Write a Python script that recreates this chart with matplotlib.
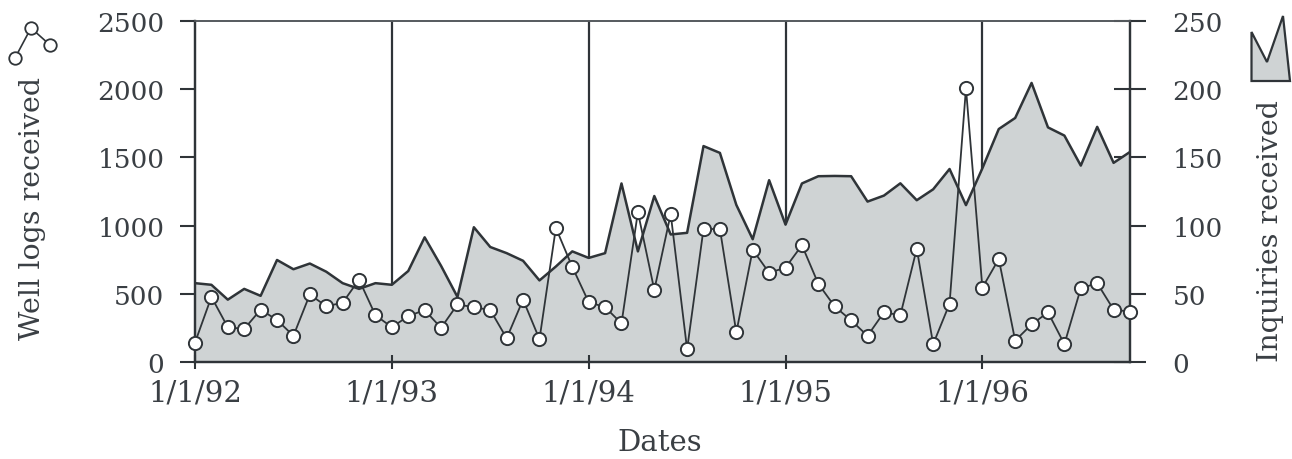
import matplotlib
matplotlib.use("Agg")
import matplotlib.pyplot as plt
from matplotlib.lines import Line2D
from matplotlib.patches import Polygon
import numpy as np

# Monthly data, Jan 1992 .. Oct 1996
well_logs = [142, 477, 255, 242, 384, 308, 192, 495, 409, 434, 604, 343,
             255, 336, 381, 250, 422, 402, 381, 174, 457, 167, 983, 697,
             439, 402, 283, 1099, 528, 1085, 93, 975, 975, 217, 823, 654,
             692, 856, 573, 407, 305, 192, 364, 343, 831, 131, 427, 2007,
             545, 755, 157, 275, 364, 131, 540, 578, 384, 369]
inquiries = [57.8, 56.6, 45.7, 53.6, 48.5, 74.8, 68.0, 72.2, 66.2, 57.8, 53.6, 57.8,
             56.6, 66.7, 91.4, 70.5, 47.7, 98.8, 84.3, 79.8, 74.2, 59.8, 70.0, 81.1,
             76.3, 79.8, 130.9, 81.1, 121.7, 93.5, 94.7, 158.3, 153.3, 115.2, 90.0, 133.3,
             100.7, 130.9, 136.2, 136.4, 136.2, 117.6, 122.0, 131.0, 118.6, 126.6, 141.5, 115.0,
             142.0, 170.8, 178.9, 204.6, 172.0, 166.0, 144.0, 172.4, 146.0, 154.0]
year_ticks = [0, 12, 24, 36, 48]
year_labels = ["1/1/92", "1/1/93", "1/1/94", "1/1/95", "1/1/96"]
left_ticks = [0, 500, 1000, 1500, 2000, 2500]
right_ticks = [0, 50, 100, 150, 200, 250]

plt.rcParams['font.family'] = ['DejaVu Serif']
INK = '#2f3438'
TXT = '#3a3f44'
FILL = '#cfd3d4'

W, H = 1292, 460
fig = plt.figure(figsize=(W / 100, H / 100), dpi=100)
L, R, B, T = 195, 1130, 363, 22
ax = fig.add_axes([L / W, 1 - B / H, (R - L) / W, (B - T) / H])
ax2 = ax.twinx()

months = np.arange(len(well_logs))

# inquiries area on right axis
for yt in year_ticks[1:]:
    ax2.axvline(yt, color=INK, lw=1.6, zorder=1)
ax2.fill_between(months, inquiries, 0, color=FILL, zorder=2, lw=0)
ax2.plot(months, inquiries, color=INK, lw=1.8, zorder=3)
ax2.set_ylim(0, 250)
ax2.set_yticks(right_ticks)
ax2.set_yticklabels([str(v) for v in right_ticks])
ax2.tick_params(axis='y', direction='inout', length=23, width=1.5, color=INK,
                labelsize=19, labelcolor=TXT, pad=19)
for lab in ax2.get_yticklabels():
    lab.set_horizontalalignment('left')

# well logs line on left axis (drawn above)
ax.set_zorder(ax2.get_zorder() + 1)
ax.patch.set_visible(False)
ax.plot(months, well_logs, color=INK, lw=1.3, marker='o', markersize=9.5,
        markerfacecolor='white', markeredgecolor=INK, markeredgewidth=1.4,
        zorder=5, clip_on=False)
ax.set_xlim(0, len(well_logs) - 1)
ax.set_ylim(0, 2500)
ax.set_yticks(left_ticks)
ax.set_yticklabels([str(v) for v in left_ticks])
ax.tick_params(axis='y', direction='out', length=11, width=1.5, color=INK,
               labelsize=19, labelcolor=TXT, pad=11)
ax.set_xticks(year_ticks)
ax.set_xticklabels(year_labels)
ax.tick_params(axis='x', direction='inout', length=10, width=1.5, color=INK,
               labelsize=21, labelcolor=TXT, pad=7)
ax2.tick_params(axis='x', length=0)

for a in (ax, ax2):
    for side in ('left', 'right', 'bottom'):
        a.spines[side].set_color(INK)
        a.spines[side].set_linewidth(1.6)
    a.spines['top'].set_color('#555a5e')
    a.spines['top'].set_linewidth(1.2)
    a.spines['top'].set_linestyle((0, (1, 1)))

fig.text(660 / W, 1 - 443 / H, "Dates", ha='center', va='center',
         fontsize=21, color=TXT)
fig.text(33 / W, 1 - 209 / H, "Well logs received", ha='center', va='center',
         rotation=90, fontsize=20.5, color=TXT)
fig.text(1270 / W, 1 - 231 / H, "Inquiries received", ha='center', va='center',
         rotation=90, fontsize=20.5, color=TXT)

# legend icons (figure pixel coordinates)
def px(x, y):
    return (x / W, 1 - y / H)

ix = [15, 31, 50]
iy = [59, 29, 46]
fig.add_artist(Line2D([px(x, 0)[0] for x in ix], [px(0, y)[1] for y in iy],
                      transform=fig.transFigure, color=INK, lw=1.2, marker='o',
                      markersize=9, markerfacecolor='white',
                      markeredgecolor=INK, markeredgewidth=1.3))
poly = [px(1251.5, 82), px(1251.5, 33), px(1267, 63), px(1283, 17),
        px(1290, 82)]
fig.add_artist(Polygon(poly, closed=True, transform=fig.transFigure,
                       facecolor=FILL, edgecolor=INK, lw=1.6))

fig.savefig("out.png", dpi=100, facecolor='white')
